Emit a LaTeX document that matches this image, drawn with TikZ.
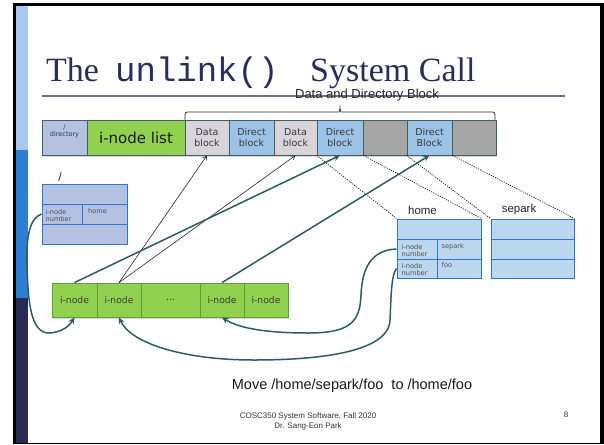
\documentclass[tikz,border=0pt]{standalone}
\usepackage{fontspec}
\setmainfont{Liberation Serif}
\newfontfamily\arialf{Liberation Sans}
\newfontfamily\verdf{DejaVu Sans}
\newfontfamily\monof{Liberation Mono}
\usetikzlibrary{arrows.meta,shadows}
\definecolor{sidelight}{HTML}{A8C8F2}
\definecolor{sidemid}{HTML}{2D7FD6}
\definecolor{sidedark}{HTML}{272A55}
\definecolor{titlenavy}{HTML}{2A2C5C}
\definecolor{rulecol}{HTML}{6C6F8E}
\definecolor{lavC}{HTML}{B4C1E1}
\definecolor{dataC}{HTML}{D9D3DA}
\definecolor{dirC}{HTML}{9DC3E6}
\definecolor{grayC}{HTML}{A6A6A6}
\definecolor{greenC}{HTML}{92D050}
\definecolor{greenE}{HTML}{5F9E3A}
\definecolor{rowE}{HTML}{3F5F64}
\definecolor{homeF}{HTML}{BDD7EE}
\definecolor{blueE}{HTML}{2E74D4}
\definecolor{tealC}{HTML}{2F5C63}
\definecolor{celltext}{HTML}{3A3A3A}
\definecolor{smalltext}{HTML}{505050}
\newcommand{\vsz}[2]{\verdf\fontsize{#1}{#2}\selectfont}
\newcommand{\asz}[2]{\arialf\fontsize{#1}{#2}\selectfont}
\begin{document}
\begin{tikzpicture}[x=1pt,y=-1pt,
  rowcell/.style={draw=rowE, line width=0.8pt, minimum height=35pt, inner sep=0pt,
    align=center, text=celltext, font=\vsz{9.5}{11.6},
    drop shadow={shadow xshift=0.6pt, shadow yshift=-1.8pt, opacity=0.3}},
  greencell/.style={draw=greenE, fill=greenC, line width=0.8pt, minimum height=34pt,
    minimum width=44pt, inner sep=0pt, text=celltext, font=\vsz{9.2}{11},
    drop shadow={shadow xshift=0.6pt, shadow yshift=-1.8pt, opacity=0.3}},
  rootcell/.style={draw=blueE, fill=lavC, line width=0.9pt, inner sep=0pt, minimum height=20pt},
  homecell/.style={draw=blueE, fill=homeF, line width=1pt, inner sep=0pt},
  tinytext/.style={inner sep=0pt, align=left, text=smalltext, font=\vsz{6.6}{7.7}},
  dirlabel/.style={inner sep=0pt, text=black!85, font=\asz{11.5}{13}},
  dotline/.style={draw=black, line width=0.6pt, dash pattern=on 1.2pt off 1.2pt},
  thinarrow/.style={draw=black!85, line width=0.6pt, -{Straight Barb[length=4pt,width=4.5pt]}},
  tealarrow/.style={draw=tealC, line width=1.5pt, -{Stealth[length=6.5pt,width=6pt]}},
  titlefont/.style={inner sep=0pt, anchor=base west, text=titlenavy}
]
\useasboundingbox (0,0) rectangle (604,444);
% slide frame
\fill[black] (13,3) rectangle (604,444);
\fill[white] (16,6) rectangle (600,442.5);
\fill[sidelight] (16,6) rectangle (28,150);
\fill[sidemid] (16,150) rectangle (28,298);
\fill[sidedark] (16,298) rectangle (28,442.5);

% title
\node[titlefont, font=\fontsize{34}{40}\selectfont] (tthe) at (46,81) {The};
\node[titlefont, font=\monof\fontsize{34}{40}\selectfont] (tunl) at (115,81) {unlink()};
\node[titlefont, font=\fontsize{34}{40}\selectfont] (tsys) at (310,81) {System Call};
\coordinate (rulel) at (42,96);
\coordinate (ruler) at (565,96);
\draw[rulecol, line width=1.5pt] (rulel) -- (ruler);

% brace and its label
\node[inner sep=0pt, font=\asz{13}{15}, text=black!85] (ddb) at (367,95) {Data and Directory Block};
\coordinate (brl) at (185,121);
\coordinate (brr) at (495,121);
\draw[black!85, line width=0.7pt, rounded corners=2.5pt]
  (brl) |- (336.5,112) .. controls (339,112) and (340,110) .. (340,104)
  .. controls (340,110) and (341,112) .. (343.5,112) -| (brr);

% top row
\node[rowcell, fill=lavC, minimum width=45pt] (dir) at (64.5,137.5) {};
\node[inner sep=0pt, align=center, text=celltext, font=\vsz{6.5}{7.4}] (dirt) at (64.5,131.5) {/\\directory};
\node[rowcell, fill=greenC, minimum width=98pt, font=\vsz{15}{17}, text=black!90] (ilist) at (136,137.5) {i-node list};
\node[rowcell, fill=dataC, minimum width=44pt] (db1) at (207,137.5) {Data\\block};
\node[rowcell, fill=dirC, minimum width=45pt] (dr1) at (251.5,137.5) {Direct\\block};
\node[rowcell, fill=dataC, minimum width=43pt] (db2) at (295.5,137.5) {Data\\block};
\node[rowcell, fill=dirC, minimum width=46pt] (dr2) at (340,137.5) {Direct\\block};
\node[rowcell, fill=grayC, minimum width=44pt] (g1) at (385,137.5) {};
\node[rowcell, fill=dirC, minimum width=45pt] (dr3) at (429.5,137.5) {Direct\\Block};
\node[rowcell, fill=grayC, minimum width=44pt] (g2) at (474,137.5) {};

% root directory box
\node[inner sep=0pt, font=\asz{12}{14}, text=black!85] (rootlbl) at (60,177) {/};
\node[rootcell, minimum width=85pt] (rtop) at (84.5,194) {};
\node[rootcell, minimum width=40pt] (rnum) at (62,214) {};
\node[rootcell, minimum width=45pt] (rname) at (104.5,214) {};
\node[rootcell, minimum width=85pt] (rbot) at (84.5,234) {};
\node[tinytext, anchor=west] (rnumt) at (45.5,215.5) {i-node\\number};
\node[tinytext, anchor=west] (rnamet) at (88,211.5) {home};

% home directory box
\node[dirlabel] (homelbl) at (422.5,210) {home};
\node[homecell, minimum width=84pt, minimum height=20pt] (htop) at (439,229) {};
\node[homecell, minimum width=40pt, minimum height=20pt] (hnum1) at (417,249) {};
\node[homecell, minimum width=44pt, minimum height=20pt] (hname1) at (459,249) {};
\node[homecell, minimum width=40pt, minimum height=19pt] (hnum2) at (417,268.5) {};
\node[homecell, minimum width=44pt, minimum height=19pt] (hname2) at (459,268.5) {};
\node[tinytext, anchor=west] (hnum1t) at (401.5,250.5) {i-node\\number};
\node[tinytext, anchor=west] (hname1t) at (441.5,246.5) {separk};
\node[tinytext, anchor=west] (hnum2t) at (401.5,269.5) {i-node\\number};
\node[tinytext, anchor=west] (hname2t) at (441.5,265.5) {foo};

% separk directory box
\node[dirlabel] (seplbl) at (519,210) {separk};
\node[homecell, minimum width=83pt, minimum height=20pt] (s1) at (532.5,229) {};
\node[homecell, minimum width=83pt, minimum height=20pt] (s2) at (532.5,249) {};
\node[homecell, minimum width=83pt, minimum height=19pt] (s3) at (532.5,268.5) {};

% i-node row
\node[greencell, minimum width=45pt] (ino1) at (74.5,300) {i-node};
\node[greencell] (ino2) at (119,300) {i-node};
\node[greencell, minimum width=59pt] (idots) at (170.5,300) {...};
\node[greencell] (ino4) at (222,300) {i-node};
\node[greencell] (ino5) at (266,300) {i-node};

% dotted projections
\draw[dotline] (dr2.south west) -- (htop.north west);
\draw[dotline] (dr2.south east) -- (htop.north east);
\draw[dotline] (dr3.south west) -- (s1.north west);
\draw[dotline] (dr3.south east) -- (s1.north east);

% i-node pointers
\draw[thinarrow] (ino2.north) -- (db1.south);
\draw[thinarrow] (ino2.north) -- (db2.south);
\draw[tealarrow] (ino1.north) -- (dr2.south);
\draw[tealarrow] (ino4.north) -- (dr3.south);

% directory entries to i-nodes
\draw[tealarrow] (rnum.west) .. controls (29,218) and (26,240) .. (27,265)
  .. controls (28,300) and (30,334) .. (50,333)
  .. controls (60,332) and (68,328) .. (ino1.south);
\draw[tealarrow] (hnum1.west) .. controls (370,250) and (362,270) .. (361,295)
  .. controls (360,322) and (350,333) .. (308,333)
  .. controls (270,333) and (240,329) .. (ino4.south);
\draw[tealarrow] (hnum2.west) .. controls (391,275) and (391,300) .. (390,320)
  .. controls (389,352) and (320,360) .. (254,360)
  .. controls (180,360) and (130,342) .. (ino2.south);

% captions
\node[inner sep=0pt, font=\asz{14.5}{17}, text=black!90] (movet) at (352,386) {Move /home/separk/foo\ \ to /home/foo};
\node[inner sep=0pt, align=center, font=\asz{8}{10}, text=black!80] (foot) at (308,421) {COSC350 System Software, Fall 2020\\Dr. Sang-Eon Park};
\node[inner sep=0pt, font=\asz{8}{10}, text=black!80] (pnum) at (566,415) {8};
\end{tikzpicture}
\end{document}
